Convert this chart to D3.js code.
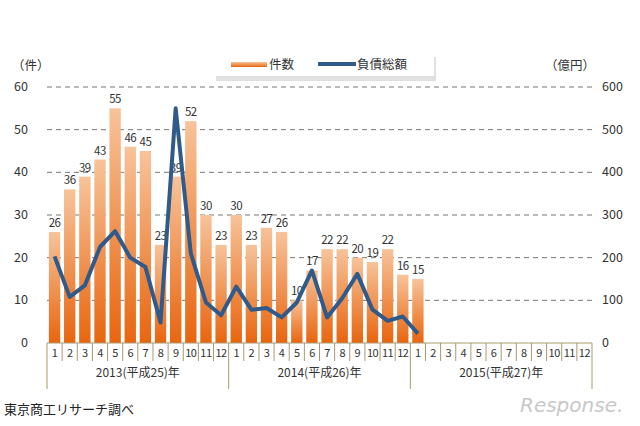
<!DOCTYPE html>
<html><head><meta charset="utf-8">
<script src="https://cdn.jsdelivr.net/npm/d3@7"></script>
<style>body{margin:0;background:#fff;font-family:"Noto Sans CJK JP","DejaVu Sans",sans-serif}</style>
</head><body><svg id="c" width="640" height="426"></svg>
<script>
const counts = [26,36,39,43,55,46,45,23,39,52,30,23, 30,23,27,26,10,17,22,22,20,19,22,16, 15];
const debt = [203,108,135,225,262,200,178,48,550,210,95,65, 132,78,82,60,95,170,60,105,162,78,52,62, 22];
const years = ["2013(平成25)年","2014(平成26)年","2015(平成27)年"];
const leftTicks = [0,10,20,30,40,50,60];
const rightTicks = [0,100,200,300,400,500,600];

const svg = d3.select("#c");
const L = 47, R = 592, T = 87, B = 343;
const months = d3.range(36);
const x = d3.scaleBand().domain(months).range([L, R]).paddingInner(0.25).paddingOuter(0.125);
const xs = d3.scaleBand().domain(months).range([L, R]);
const yL = d3.scaleLinear().domain([0,60]).range([B, T]);
const yR = d3.scaleLinear().domain([0,600]).range([B, T]);

const grad = svg.append("defs").append("linearGradient").attr("id","g").attr("x1",0).attr("x2",0).attr("y1",0).attr("y2",1);
grad.append("stop").attr("offset","0%").attr("stop-color","#f7c39a");
grad.append("stop").attr("offset","100%").attr("stop-color","#e8650f");

// grid
svg.selectAll(".grid").data(leftTicks.slice(1)).join("line")
  .attr("x1", L).attr("x2", R).attr("y1", d => yL(d)).attr("y2", d => yL(d))
  .attr("stroke","#777").attr("stroke-dasharray","5,4").attr("stroke-width",1);

// bars
svg.selectAll(".bar").data(counts).join("rect")
  .attr("x",(d,i)=>x(i)).attr("width",x.bandwidth())
  .attr("y",d=>yL(d)).attr("height",d=>B-yL(d)).attr("fill","url(#g)");

svg.selectAll(".lbl").data(counts).join("text")
  .attr("x",(d,i)=>x(i)+x.bandwidth()/2).attr("y",d=>yL(d)-5)
  .attr("text-anchor","middle").attr("font-size",11.5).attr("fill","#333").attr("letter-spacing",-0.5).text(d=>d);

// line
svg.append("path").datum(debt)
  .attr("d", d3.line().x((d,i)=>xs(i)+xs.bandwidth()/2).y(d=>yR(d)))
  .attr("fill","none").attr("stroke","#2f5a8a").attr("stroke-width",4).attr("stroke-linejoin","round");

// axes
svg.selectAll(".lt").data(leftTicks).join("text")
  .attr("x",28).attr("y",d=>yL(d)+4).attr("text-anchor","end").attr("font-size",12.5).attr("fill","#333").text(d=>d);
svg.selectAll(".rt").data(rightTicks).join("text")
  .attr("x",602).attr("y",d=>yR(d)+4).attr("font-size",12.5).attr("fill","#333").text(d=>d);
svg.append("text").attr("x",12).attr("y",70).attr("font-size",12.5).attr("fill","#333").text("（件）");
svg.append("text").attr("x",545).attr("y",70).attr("font-size",12.5).attr("fill","#333").text("（億円）");

// x axis box
const ax = svg.append("g").attr("stroke","#a89a70").attr("stroke-width",1);
ax.append("line").attr("x1",L).attr("x2",R).attr("y1",B).attr("y2",B);
ax.selectAll(".mt").data(d3.range(37)).join("line")
  .attr("x1",d=>L+d*xs.step()).attr("x2",d=>L+d*xs.step())
  .attr("y1",B).attr("y2",d=>d%12===0?B+46:B+18);
svg.selectAll(".ml").data(months).join("text")
  .attr("x",d=>xs(d)+xs.bandwidth()/2).attr("y",B+14).attr("text-anchor","middle")
  .attr("font-size",11).attr("fill","#333").attr("letter-spacing",-0.5).text(d=>d%12+1);
svg.selectAll(".yl").data(years).join("text")
  .attr("x",(d,i)=>L+(i*12+6)*xs.step()).attr("y",B+34).attr("text-anchor","middle")
  .attr("font-size",12).attr("fill","#333").text(d=>d);

// legend
const lg = svg.append("g");
lg.append("rect").attr("x",214).attr("y",54).attr("width",220).attr("height",24).attr("fill","#000").attr("opacity",0.12).attr("transform","translate(2,3)");
lg.append("rect").attr("x",214).attr("y",52).attr("width",220).attr("height",24).attr("fill","#fff");
lg.append("rect").attr("x",231).attr("y",62).attr("width",36).attr("height",5).attr("fill","url(#g)");
lg.append("text").attr("x",269).attr("y",69).attr("font-size",12.5).attr("fill","#333").text("件数");
lg.append("line").attr("x1",318).attr("x2",356).attr("y1",64).attr("y2",64).attr("stroke","#2f5a8a").attr("stroke-width",4);
lg.append("text").attr("x",357).attr("y",69).attr("font-size",12.5).attr("fill","#333").text("負債総額");

svg.append("text").attr("x",4).attr("y",414).attr("font-size",13).attr("fill","#222").text("東京商工リサーチ調べ");
svg.append("text").attr("x",520).attr("y",412).attr("font-size",20).attr("font-style","italic").attr("fill","#c8c8c8").attr("font-family","DejaVu Sans").text("Response.");
</script></body></html>
